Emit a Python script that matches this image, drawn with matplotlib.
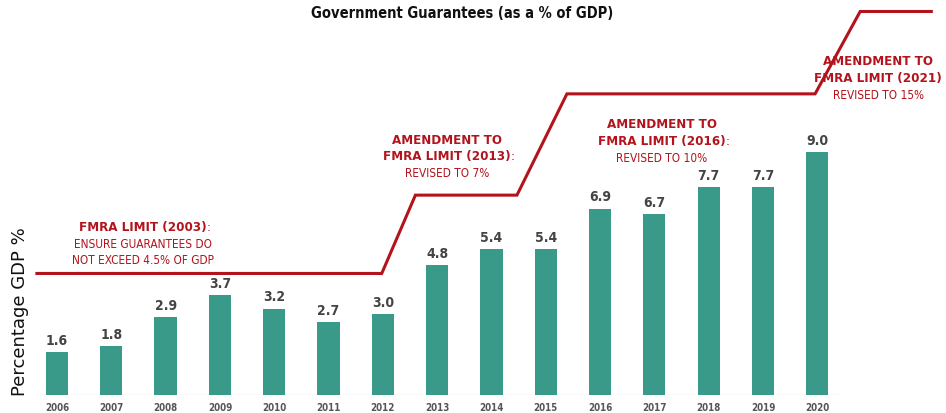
import numpy as np
import matplotlib
matplotlib.use('Agg')
import matplotlib.pyplot as plt

# data
years = ['2006', '2007', '2008', '2009', '2010', '2011', '2012', '2013',
         '2014', '2015', '2016', '2017', '2018', '2019', '2020']
guarantees = [1.6, 1.8, 2.9, 3.7, 3.2, 2.7, 3.0, 4.8, 5.4, 5.4, 6.9, 6.7, 7.7, 7.7, 9.0]

# FMRA limit step line (schematic, drawn levels as they appear on the picture)
limit_x = [-0.37, 5.98, 6.6, 8.47, 9.39, 13.96, 14.79, 16.1]
limit_y = [4.5, 4.5, 7.4, 7.4, 11.15, 11.15, 14.2, 14.2]

notes = [
    # x, y of first line, header lines, body lines, colon after last header
    (1.58, 6.19, ['FMRA LIMIT (2003)'], ['ENSURE GUARANTEES DO', 'NOT EXCEED 4.5% OF GDP'], True),
    (7.18, 9.44, ['AMENDMENT TO', 'FMRA LIMIT (2013)'], ['REVISED TO 7%'], True),
    (11.14, 10.0, ['AMENDMENT TO', 'FMRA LIMIT (2016)'], ['REVISED TO 10%'], True),
    (15.12, 12.33, ['AMENDMENT TO', 'FMRA LIMIT (2021)'], ['REVISED TO 15%'], False),
]

teal = '#3a9a89'
red = '#b3131c'
font = ['DejaVu Sans']
cond = 'condensed'

fig = plt.figure(figsize=(9.46, 4.13), dpi=100)
ax = fig.add_axes([30/946, 18/413, 910/946, 390/413])
x = np.arange(len(years))

ax.bar(x, guarantees, width=0.41, color=teal, zorder=2)
for xi, v in zip(x, guarantees):
    ax.annotate('%.1f' % v, (xi, v), xytext=(0, 3), textcoords='offset points',
                ha='center', va='bottom', fontsize=10, fontweight='bold',
                color='#444444', family=font, fontstretch=cond)
    ax.text(xi, -0.3, years[xi], ha='center', va='top', fontsize=7,
            fontweight='bold', color='#555555', family=font, fontstretch=cond)

ax.plot([-0.4, 14.4], [0, 0], color='#e6e6e6', lw=1, zorder=1)
ax.plot(limit_x, limit_y, color=red, lw=2.2, zorder=3, solid_joinstyle='miter')

step = 0.62
for nx, ny, heads, body, colon in notes:
    y = ny
    for i, h in enumerate(heads):
        t = ax.text(nx, y, h, ha='center', va='center', fontsize=9.5,
                    fontweight='bold', color=red, family=font, fontstretch=cond)
        if colon and i == len(heads) - 1:
            ax.annotate(':', xy=(1, 0.5), xycoords=t, va='center', ha='left',
                        fontsize=9.5, color=red, family=font, fontstretch=cond)
        y -= step
    for b in body:
        ax.text(nx, y, b, ha='center', va='center', fontsize=8.5,
                color=red, family=font, fontstretch=cond)
        y -= step * 0.93

ax.set_xlim(-0.497, 16.26)
ax.set_ylim(0, 14.44)
ax.axis('off')

fig.text(0.489, 0.968, 'Government Guarantees (as a % of GDP)', ha='center',
         va='center', fontsize=10.5, fontweight='bold', color='#111111',
         family=font, fontstretch=cond)
fig.text(0.021, 0.246, 'Percentage GDP %', rotation=90, ha='center', va='center',
         fontsize=13, color='#111111')

fig.savefig('out.png', dpi=100)
